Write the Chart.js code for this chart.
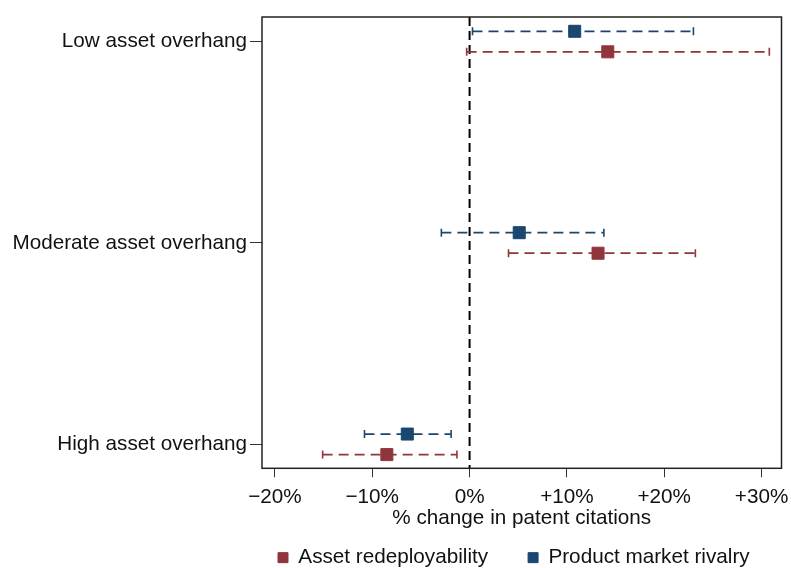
<!DOCTYPE html>
<html>
<head>
<meta charset="utf-8">
<script src="https://cdn.jsdelivr.net/npm/chart.js@4.4.1/dist/chart.umd.min.js"></script>
<style>
  html, body { margin: 0; padding: 0; background: #fff; overflow: hidden; }
  #wrap { position: relative; width: 791px; height: 609px; }
</style>
</head>
<body>
<div id="wrap"><canvas id="coefChart"></canvas></div>
<script>
// categories (top to bottom) and their slot on the y scale
const categories = ['Low asset overhang', 'Moderate asset overhang', 'High asset overhang'];
const categoryPos = [1, 2, 3];

// Asset redeployability (red): estimate and 95% CI, in %
const redeployEst = [14.2, 13.2, -8.5];
const redeployLow = [-0.3, 4.0, -15.1];
const redeployHigh = [30.8, 23.2, -1.3];

// Product market rivalry (blue)
const rivalryEst = [10.8, 5.1, -6.4];
const rivalryLow = [0.3, -2.9, -10.8];
const rivalryHigh = [23.0, 13.8, -1.9];

const xTickValues = [-20, -10, 0, 10, 20, 30];
const xTickLabels = ['\u221220%', '\u221210%', '0%', '+10%', '+20%', '+30%'];

const RED = '#90353b';
const BLUE = '#1a476f';
const FONT = { family: "'Liberation Sans', Arial, sans-serif", size: 20.7 };
const TEXT = '#111';
const SHIFT = 0.051;   // vertical offset of the two series around each category
const Y_MIN = 0.878, Y_MAX = 3.119;

function ciDatasets(low, high, color, shift) {
    return categoryPos.map((pos, i) => ({
        data: [{ x: low[i], y: pos + shift }, { x: high[i], y: pos + shift }],
        showLine: true,
        borderColor: color,
        borderWidth: 1.8,
        borderDash: [10, 6],
        pointStyle: 'line',
        rotation: 90,
        pointRadius: 4,
        pointBorderColor: color,
        pointBorderWidth: 1.6,
        order: 2
    }));
}

function markerDataset(label, est, color, shift) {
    return {
        label: label,
        data: categoryPos.map((pos, i) => ({ x: est[i], y: pos + shift })),
        pointStyle: 'rect',
        pointRadius: 8.5,
        backgroundColor: color,
        borderColor: color,
        borderWidth: 1,
        order: 0,
        inLegend: true
    };
}

const zeroLine = {
    data: [{ x: 0, y: Y_MIN }, { x: 0, y: Y_MAX }],
    showLine: true,
    borderColor: '#000',
    borderWidth: 2,
    borderDash: [9, 5],
    pointRadius: 0,
    order: 3
};

// box around the plot region, legend placed under the plot
const framePlugin = {
    id: 'frame',
    afterLayout(chart) {
        const lg = chart.legend;
        const pad = lg.options.labels.padding;
        const h = lg.bottom - lg.top;
        lg.top = chart.chartArea.bottom + 89 - pad - 10;
        lg.bottom = lg.top + h;
        lg.left = chart.chartArea.left + 16 - pad;
        lg.right = chart.width + 200;   // keep both items on one row
    },
    afterDatasetsDraw(chart) {
        const { ctx, chartArea: a } = chart;
        ctx.save();
        ctx.strokeStyle = '#222';
        ctx.lineWidth = 1.5;
        ctx.strokeRect(a.left, a.top, a.right - a.left, a.bottom - a.top);
        ctx.restore();
    }
};

new Chart(document.getElementById('coefChart'), {
    type: 'scatter',
    data: {
        datasets: [
            zeroLine,
            ...ciDatasets(rivalryLow, rivalryHigh, BLUE, -SHIFT),
            ...ciDatasets(redeployLow, redeployHigh, RED, SHIFT),
            markerDataset('Asset redeployability', redeployEst, RED, SHIFT),
            markerDataset('Product market rivalry', rivalryEst, BLUE, -SHIFT)
        ]
    },
    options: {
        responsive: true,
        maintainAspectRatio: false,
        animation: false,
        layout: { padding: { top: 17, right: 8, left: 0, bottom: 0 } },
        scales: {
            x: {
                type: 'linear',
                min: -21.33,
                max: 32.05,
                afterBuildTicks: s => { s.ticks = xTickValues.map(v => ({ value: v })); },
                afterFit: s => { s.height = 70; s.paddingLeft = 0; s.paddingRight = 0; },
                ticks: { callback: (v, i) => xTickLabels[i], padding: 8, color: TEXT, font: FONT, maxRotation: 0 },
                grid: { drawOnChartArea: false, tickLength: 9, tickColor: '#333', tickWidth: 1 },
                border: { display: false },
                title: {
                    display: true,
                    text: '% change in patent citations',
                    color: TEXT,
                    font: FONT,
                    padding: { top: 0, bottom: 8 }
                }
            },
            y: {
                type: 'linear',
                reverse: true,
                min: Y_MIN,
                max: Y_MAX,
                afterBuildTicks: s => { s.ticks = categoryPos.map(v => ({ value: v })); },
                afterFit: s => { s.width = 262; },
                ticks: { callback: (v, i) => categories[i], padding: 3, color: TEXT, font: FONT, autoSkip: false },
                grid: { drawOnChartArea: false, tickLength: 12, tickColor: '#333', tickWidth: 1 },
                border: { display: false }
            }
        },
        plugins: {
            tooltip: { enabled: false },
            legend: {
                position: 'bottom',
                align: 'start',
                labels: {
                    boxWidth: 10,
                    boxHeight: 10,
                    padding: 40,
                    color: TEXT,
                    font: FONT,
                    filter: (item, data) => !!data.datasets[item.datasetIndex].inLegend
                }
            }
        }
    },
    plugins: [framePlugin]
});
</script>
</body>
</html>
